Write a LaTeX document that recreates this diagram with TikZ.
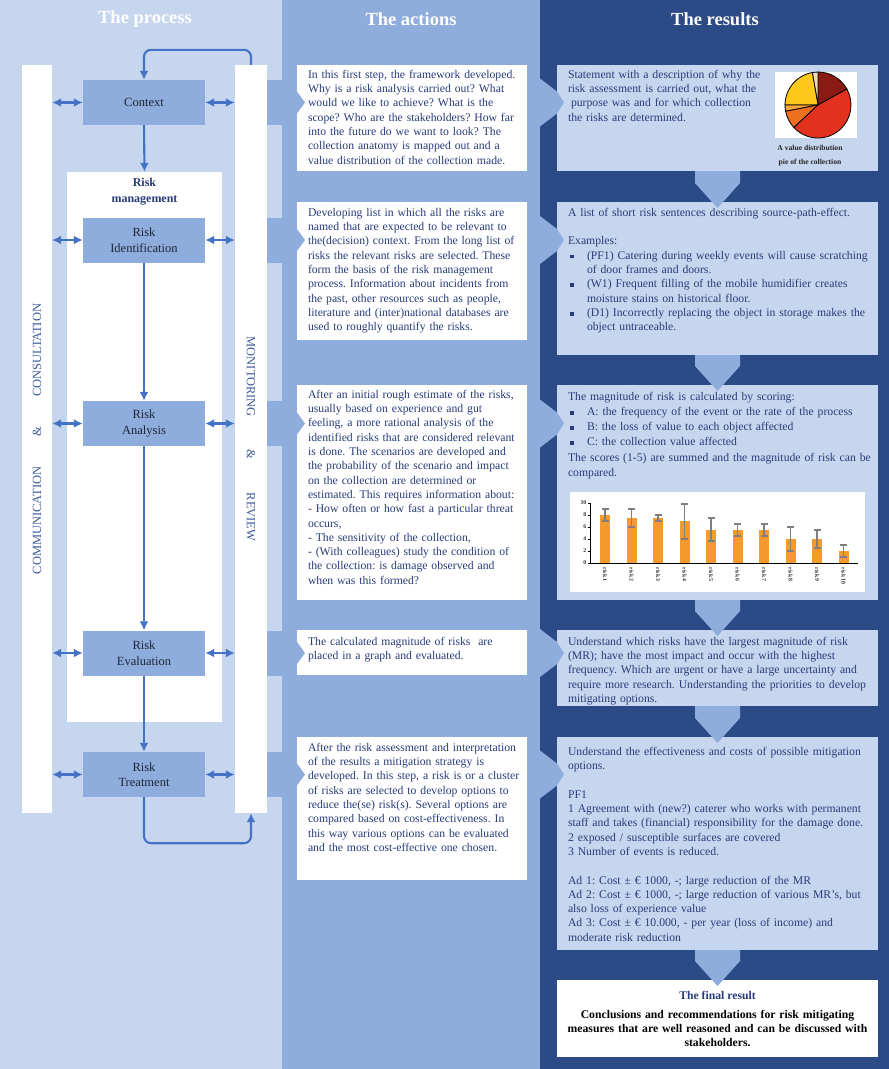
\documentclass[tikz,border=0pt]{standalone}
\usepackage{fontspec}
\setmainfont{Liberation Serif}
\usetikzlibrary{arrows.meta,calc}
\frenchspacing
\definecolor{lightcol}{HTML}{C6D6EE}
\definecolor{midcol}{HTML}{8FADDC}
\definecolor{darkcol}{HTML}{2B4A86}
\definecolor{arrowcol}{HTML}{4472C4}
\definecolor{navytext}{HTML}{283C79}
\definecolor{boxtext}{HTML}{1E2638}
\definecolor{bartext}{HTML}{3D5B9B}
\definecolor{barorange}{HTML}{F59B2E}
\definecolor{errgray}{HTML}{7F7F7F}
\definecolor{pieA}{HTML}{8B1A14}
\definecolor{pieB}{HTML}{E2321E}
\definecolor{pieC}{HTML}{EE7020}
\definecolor{pieD}{HTML}{F5A33A}
\definecolor{pieE}{HTML}{FFC81A}
\definecolor{pieF}{HTML}{F6D9B0}
\newcommand{\sqb}{\makebox[19pt][l]{\hspace{2pt}\raisebox{0.9pt}{\rule{3.6pt}{3.6pt}}}}
\newcommand{\ind}{\hspace*{19pt}}
\newcommand{\pieslice}[3]{\filldraw[fill=#3, draw=black, line width=0.8pt] (0,0) -- (-#1:33) arc[start angle=-#1, end angle=-#2, radius=33] -- cycle;}
\tikzset{
  procbox/.style={fill=midcol, minimum width=122, minimum height=45, inner sep=0, align=center, text=boxtext, font=\fontsize{12.5}{15.5}\selectfont},
  whitebar/.style={fill=white, inner sep=0},
  actbox/.style={fill=white, inner sep=0, minimum width=230},
  resbox/.style={fill=lightcol, inner sep=0, minimum width=321},
  txt/.style={anchor=base west, inner sep=0, align=left, text width=#1},
  actiontext/.style={txt=228, text=navytext, font=\fontsize{11.7}{14.3}\selectfont},
  resulttext/.style={txt=318, text=navytext, font=\fontsize{11.7}{14.3}\selectfont},
  flow/.style={draw=arrowcol, line width=2.1pt, -{Latex[length=9pt,width=9pt]}},
  dflow/.style={draw=arrowcol, line width=2.1pt, {Latex[length=9pt,width=9pt]}-{Latex[length=9pt,width=9pt]}},
  header/.style={text=white, font=\fontsize{18.5}{20}\selectfont\bfseries},
  bartxt/.style={text=bartext, font=\fontsize{12.5}{14}\selectfont},
  charttxt/.style={inner sep=0, text=black!80, font=\bfseries\fontsize{5.8}{6}\selectfont},
}
\begin{document}
\begin{tikzpicture}[x=1pt,y=-1pt]
\useasboundingbox (0,0) rectangle (889,1069);
% column backgrounds
\fill[lightcol] (0,0) rectangle (282,1069);
\fill[midcol] (282,0) rectangle (540,1069);
\fill[darkcol] (540,0) rectangle (889,1069);
% headers
\node[header] (h1) at (145,19) {The process};
\node[header] (h2) at (411,19) {The actions};
\node[header] (h3) at (715,19) {The results};
% left tabs toward the actions
\foreach \yc in {102.5,240,423.5,653,774.5}{
  \fill[midcol] (267,\yc-22.5) rectangle (297,\yc+22.5);
}
% bars and risk management frame
\node[whitebar, minimum width=30, minimum height=748] (commbar) at (37,439) {};
\node[whitebar, minimum width=32, minimum height=748] (monbar) at (251,439) {};
\node[whitebar, minimum width=155, minimum height=550] (riskmgmt) at (144.5,447) {};
\node[bartxt, rotate=90] (commtxt) at (commbar.center) {COMMUNICATION\hspace{30pt}\&\hspace{30pt}CONSULTATION};
\node[bartxt, rotate=-90] (montxt) at (monbar.center) {MONITORING\hspace{33pt}\&\hspace{33pt}REVIEW};
\node[align=center, text=navytext, font=\bfseries\fontsize{12}{16}\selectfont] (rmlabel) at (144.5,191.5) {Risk\\management};
% process boxes
\node[procbox] (context) at (144,102.5) {Context};
\node[procbox] (ident) at (144,240) {Risk\\Identification};
\node[procbox] (analysis) at (144,423.5) {Risk\\Analysis};
\node[procbox] (eval) at (144,653) {Risk\\Evaluation};
\node[procbox] (treat) at (144,774.5) {Risk\\Treatment};
% connectors
\draw[flow] (context.south) -- (riskmgmt.north);
\draw[flow] (ident.south) -- (analysis.north);
\draw[flow] (analysis.south) -- (eval.north);
\draw[flow] (eval.south) -- (treat.north);
\draw[flow, rounded corners=7] (monbar.north) -- ++(0,-15) -| (context.north);
\draw[flow, rounded corners=7] (treat.south) -- ++(0,46) -| (monbar.south);
\foreach \n in {context,ident,analysis,eval,treat}{
  \draw[dflow] (commbar.east |- \n.west) -- (\n.west);
  \draw[dflow] (\n.east) -- (monbar.west |- \n.east);
}
% action boxes
\node[actbox, minimum height=106] (a1) at (412,118) {};
\node[actbox, minimum height=138] (a2) at (412,271) {};
\node[actbox, minimum height=215] (a3) at (412,492.5) {};
\node[actbox, minimum height=45] (a4) at (412,652.5) {};
\node[actbox, minimum height=143] (a5) at (412,808.5) {};
\foreach \yc in {102.5,240,423.5,653,774.5}{
  \fill[midcol] (297,\yc-11) -- (305,\yc) -- (297,\yc+11) -- cycle;
}
\node[actiontext] (t1) at ($(a1.north west)+(11,13.5)$) {In this first step, the framework developed.\\Why is a risk analysis carried out? What\\would we like to achieve? What is the\\scope? Who are the stakeholders? How far\\into the future do we want to look? The\\collection anatomy is mapped out and a\\value distribution of the collection made.};
\node[actiontext] (t2) at ($(a2.north west)+(11,14.5)$) {Developing list in which all the risks are\\named that are expected to be relevant to\\the(decision) context. From the long list of\\risks the relevant risks are selected. These\\form the basis of the risk management\\process. Information about incidents from\\the past, other resources such as people,\\literature and (inter)national databases are\\used to roughly quantify the risks.};
\node[actiontext] (t3) at ($(a3.north west)+(11,13.5)$) {After an initial rough estimate of the risks,\\usually based on experience and gut\\feeling, a more rational analysis of the\\identified risks that are considered relevant\\is done. The scenarios are developed and\\the probability of the scenario and impact\\on the collection are determined or\\estimated. This requires information about:\\- How often or how fast a particular threat\\occurs,\\- The sensitivity of the collection,\\- (With colleagues) study the condition of\\the collection: is damage observed and\\when was this formed?};
\node[actiontext] (t4) at ($(a4.north west)+(11,15.5)$) {The calculated magnitude of risks\ \ are\\placed in a graph and evaluated.};
\node[actiontext] (t5) at ($(a5.north west)+(11,14.5)$) {After the risk assessment and interpretation\\of the results a mitigation strategy is\\developed. In this step, a risk is or a cluster\\of risks are selected to develop options to\\reduce the(se) risk(s). Several options are\\compared based on cost-effectiveness. In\\this way various options can be evaluated\\and the most cost-effective one chosen.};
% result boxes
\node[resbox, minimum height=106] (r1) at (717.5,118) {};
\node[resbox, minimum height=153] (r2) at (717.5,278.5) {};
\node[resbox, minimum height=215] (r3) at (717.5,492.5) {};
\node[resbox, minimum height=76] (r4) at (717.5,668) {};
\node[resbox, minimum height=213] (r5) at (717.5,843.5) {};
\node[fill=white, inner sep=0, minimum width=321, minimum height=77] (final) at (717.5,1018.5) {};
% chevrons from actions to results
\foreach \yc in {102.5,240,423.5,653,774.5}{
  \fill[midcol] (540,\yc-24) -- (557,\yc-11) -- (564,\yc) -- (557,\yc+11) -- (540,\yc+24) -- cycle;
}
% down chevrons between results
\foreach \t/\b in {171/208, 355/391, 600/636, 706/743, 950/986}{
  \fill[midcol] (695,\t) -- (740,\t) -- (740,\b-25) -- (717.5,\b) -- (695,\b-25) -- cycle;
}
\node[resulttext] (u1) at ($(r1.north west)+(11,13.5)$) {Statement with a description of why the\\risk assessment is carried out, what the\\\hspace*{3pt}purpose was and for which collection\\the risks are determined.};
\node[resulttext] (u2) at ($(r2.north west)+(11,14.5)$) {A list of short risk sentences describing source-path-effect.\\[14.3pt]Examples:\\\sqb(PF1) Catering during weekly events will cause scratching\\\ind of door frames and doors.\\\sqb(W1) Frequent filling of the mobile humidifier creates\\\ind moisture stains on historical floor.\\\sqb(D1) Incorrectly replacing the object in storage makes the\\\ind object untraceable.};
\node[resulttext, font=\fontsize{11.7}{15.2}\selectfont] (u3) at ($(r3.north west)+(11,15.5)$) {The magnitude of risk is calculated by scoring:\\\sqb A: the frequency of the event or the rate of the process\\\sqb B: the loss of value to each object affected\\\sqb C: the collection value affected\\The scores (1-5) are summed and the magnitude of risk can be\\compared.};
\node[resulttext] (u4) at ($(r4.north west)+(11,15.5)$) {Understand which risks have the largest magnitude of risk\\(MR); have the most impact and occur with the highest\\frequency. Which are urgent or have a large uncertainty and\\require more research. Understanding the priorities to develop\\mitigating options.};
\node[resulttext] (u5) at ($(r5.north west)+(11,18.5)$) {Understand the effectiveness and costs of possible mitigation\\options.\\[14.3pt]PF1\\1 Agreement with (new?) caterer who works with permanent\\staff and takes (financial) responsibility for the damage done.\\2 exposed / susceptible surfaces are covered\\3 Number of events is reduced.\\[14.3pt]Ad 1: Cost ± € 1000, -; large reduction of the MR\\Ad 2: Cost ± € 1000, -; large reduction of various MR’s, but\\also loss of experience value\\Ad 3: Cost ± € 10.000, - per year (loss of income) and\\moderate risk reduction};
\node[text=navytext, font=\bfseries\fontsize{11.7}{14.3}\selectfont] (finaltitle) at (717.5,995) {The final result};
\node[txt=318, align=center, anchor=base, text=black, font=\bfseries\fontsize{11.7}{14.2}\selectfont] (finaltxt) at (717.5,1018.5) {Conclusions and recommendations for risk mitigating\\measures that are well reasoned and can be discussed with\\stakeholders.};
% pie chart
\node[fill=white, inner sep=0, minimum width=82, minimum height=66] (piebg) at (816,105) {};
\begin{scope}[shift={(818,105)}]
\pieslice{29}{90}{pieA}
\pieslice{90}{100}{pieF}
\pieslice{100}{180}{pieE}
\pieslice{180}{191}{pieD}
\pieslice{191}{223}{pieC}
\pieslice{223}{389}{pieB}
\end{scope}
\node[align=center, text=black!85, font=\bfseries\fontsize{7.6}{13.5}\selectfont] (piecap) at (810,155.5) {A value distribution\\pie of the collection};
% bar chart
\node[fill=white, inner sep=0, minimum width=295, minimum height=100] (chartbg) at (717.5,542) {};
\foreach \i/\v/\lo/\hi in {1/8/7/9, 2/7.5/6/9, 3/7.5/7/8, 4/7/4/9.8, 5/5.5/3.7/7.5, 6/5.5/4.5/6.5, 7/5.5/4.5/6.5, 8/4/2/6, 9/4/2.5/5.5, 10/2/1/3}{
  \pgfmathsetmacro\xc{578.5+26.5*\i}
  \fill[barorange] (\xc-5,563) rectangle (\xc+5,563-6*\v);
  \draw[errgray, line width=1.6pt] (\xc,563-6*\lo) -- (\xc,563-6*\hi);
  \draw[errgray, line width=1.6pt] (\xc-3.5,563-6*\lo) -- (\xc+3.5,563-6*\lo);
  \draw[errgray, line width=1.6pt] (\xc-3.5,563-6*\hi) -- (\xc+3.5,563-6*\hi);
  \node[charttxt, rotate=-90, anchor=west] at (\xc,567.5) {risk \i};
}
\draw[black, line width=0.7pt] (590,503) -- (590,563) -- (858,563);
\foreach \k in {0,2,4,6,8,10}{
  \draw[black, line width=0.6pt] (587.5,563-6*\k) -- (590,563-6*\k);
  \node[charttxt, anchor=east] at (586.5,563-6*\k) {\k};
}
\end{tikzpicture}
\end{document}
